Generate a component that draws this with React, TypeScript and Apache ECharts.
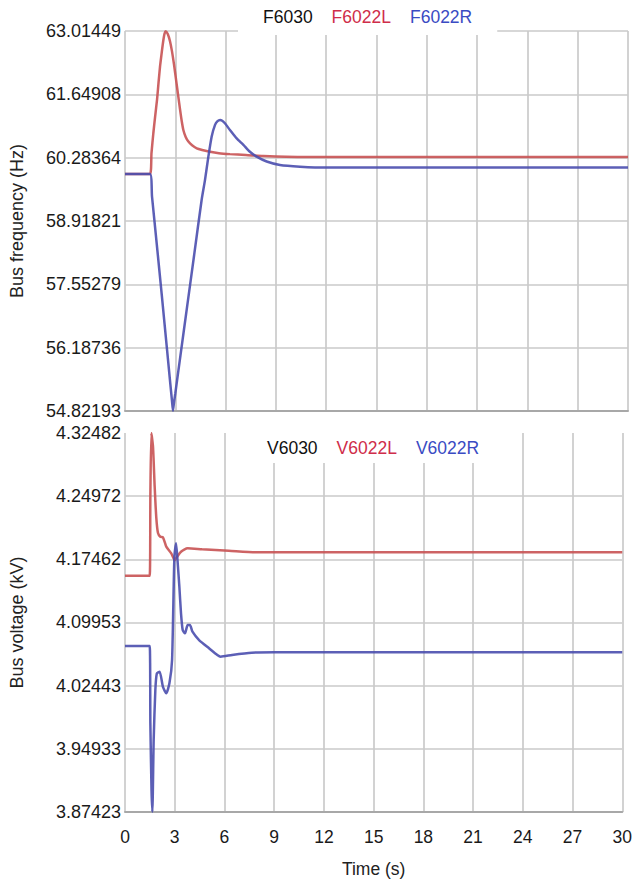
import React, { useEffect, useRef } from "react";
import * as echarts from "echarts";

// ---- Data ----
const timeTicks = [0, 3, 6, 9, 12, 15, 18, 21, 24, 27, 30];

const freqTickLabels = ["54.82193", "56.18736", "57.55279", "58.91821", "60.28364", "61.64908", "63.01449"];
const voltTickLabels = ["3.87423", "3.94933", "4.02443", "4.09953", "4.17462", "4.24972", "4.32482"];

const freqLegend = ["F6030", "F6022L", "F6022R"];
const voltLegend = ["V6030", "V6022L", "V6022R"];

// F6022L (Hz)
const f6022LTime = [0, 1.49, 1.58, 1.69, 1.8, 1.91, 2.0, 2.09, 2.19, 2.29, 2.36, 2.43, 2.55, 2.68, 2.8, 2.92, 3.05, 3.18, 3.28, 3.38, 3.48, 3.62, 3.78, 4.0, 4.28, 4.6, 5.07, 5.6, 6.26, 7.2, 8.25, 10.44, 30];
const f6022LValues = [59.93, 59.93, 60.38, 60.81, 61.18, 61.53, 61.9, 62.25, 62.55, 62.82, 62.96, 63.01, 62.95, 62.8, 62.58, 62.3, 61.95, 61.6, 61.33, 61.08, 60.88, 60.73, 60.63, 60.55, 60.485, 60.45, 60.41, 60.38, 60.36, 60.34, 60.32, 60.3, 60.3];

// F6022R (Hz)
const f6022RTime = [0, 1.49, 1.61, 1.9, 2.2, 2.5, 2.7, 2.8, 2.86, 2.92, 3.0, 3.3, 3.7, 4.1, 4.57, 4.77, 4.97, 5.17, 5.37, 5.52, 5.67, 5.8, 5.96, 6.26, 6.66, 7.06, 7.45, 7.85, 8.45, 9.24, 10.44, 12, 30];
const f6022RValues = [59.93, 59.93, 59.45, 58.4, 57.3, 56.17, 55.42, 55.05, 54.83, 55.0, 55.2, 56.0, 57.06, 58.12, 59.37, 59.8, 60.3, 60.74, 60.99, 61.07, 61.096, 61.08, 61.025, 60.88, 60.7, 60.56, 60.41, 60.305, 60.2, 60.125, 60.09, 60.07, 60.07];

// V6022L (kV)
const v6022LTime = [0, 1.49, 1.53, 1.59, 1.69, 1.79, 1.89, 1.99, 2.13, 2.29, 2.49, 2.79, 3.0, 3.08, 3.38, 3.78, 4.65, 6.26, 8, 30];
const v6022LValues = [4.155, 4.155, 4.25, 4.3248, 4.3085, 4.261, 4.2236, 4.2058, 4.2015, 4.2008, 4.1897, 4.1818, 4.1735, 4.1759, 4.1837, 4.1877, 4.1866, 4.1849, 4.183, 4.183];

// V6022R (kV)
const v6022RTime = [0, 1.49, 1.53, 1.6, 1.65, 1.73, 1.83, 1.92, 2.09, 2.29, 2.49, 2.68, 2.84, 2.98, 3.08, 3.18, 3.28, 3.38, 3.48, 3.62, 3.78, 3.92, 4.07, 4.47, 5.07, 5.57, 5.77, 6.46, 7.65, 9, 30];
const v6022RValues = [4.0716, 4.0716, 3.979, 3.9, 3.8746, 3.96, 4.019, 4.039, 4.041, 4.023, 4.0154, 4.0272, 4.055, 4.178, 4.1937, 4.17, 4.142, 4.11, 4.0906, 4.0867, 4.0966, 4.0966, 4.0886, 4.0787, 4.0689, 4.0609, 4.0589, 4.061, 4.0636, 4.0641, 4.0641];

const RED_LINE = "#c85253";
const BLUE_LINE = "#4a4eae";
const RED_TEXT = "#cf2d4a";
const BLUE_TEXT = "#3a4bc3";
const BLACK_TEXT = "#111111";
const FONT = "'Liberation Sans', Arial, sans-serif";

const zip = (t: number[], v: number[]) => t.map((x, i) => [x, v[i]]);

export default function App() {
  const ref = useRef<HTMLDivElement>(null);

  useEffect(() => {
    if (!ref.current) return;
    const chart = echarts.init(ref.current, null, { renderer: "svg" });

    const freqTicks = freqTickLabels.map(Number);
    const voltTicks = voltTickLabels.map(Number);
    const nearestLabel = (labels: string[], ticks: number[]) => (val: number) => {
      let best = 0;
      for (let i = 1; i < ticks.length; i++) {
        if (Math.abs(ticks[i] - val) < Math.abs(ticks[best] - val)) best = i;
      }
      return labels[best];
    };

    const gridLine = { show: true, lineStyle: { color: "#cacaca", width: 1.7 } };
    const legendColors = [BLACK_TEXT, RED_TEXT, BLUE_TEXT];

    const lineSeries = (name: string, data: number[][], color: string, axisIndex: number) => ({
      name,
      type: "line",
      xAxisIndex: axisIndex,
      yAxisIndex: axisIndex,
      data,
      showSymbol: false,
      symbol: "none",
      smooth: 0.2,
      lineStyle: { color, width: 2.5, opacity: 0.9 },
      itemStyle: { color },
      z: 2,
    });

    const xAxisBase = {
      type: "value",
      min: timeTicks[0],
      max: timeTicks[timeTicks.length - 1],
      interval: timeTicks[1] - timeTicks[0],
      axisTick: { show: false },
      splitLine: gridLine,
    };

    chart.setOption({
      animation: false,
      backgroundColor: "#ffffff",
      textStyle: { fontFamily: FONT },
      grid: [
        { left: 125, right: 7, top: 31, height: 380 },
        { left: 125, right: 7, top: 433, height: 379 },
      ],
      legend: [
        {
          left: 238,
          top: 0,
          padding: [8, 25, 9, 20],
          backgroundColor: "#ffffff",
          icon: "none",
          itemWidth: 0,
          itemGap: 14,
          selectedMode: false,
          textStyle: { fontSize: 17.5, fontFamily: FONT },
          data: freqLegend.map((n, i) => ({ name: n, textStyle: { color: legendColors[i] } })),
        },
        {
          left: 255,
          top: 433,
          padding: [6, 10, 6, 7],
          backgroundColor: "#ffffff",
          icon: "none",
          itemWidth: 0,
          itemGap: 14,
          selectedMode: false,
          textStyle: { fontSize: 17.5, fontFamily: FONT },
          data: voltLegend.map((n, i) => ({ name: n, textStyle: { color: legendColors[i] } })),
        },
      ],
      xAxis: [
        {
          ...xAxisBase,
          gridIndex: 0,
          axisLabel: { show: false },
          axisLine: { show: true, lineStyle: { color: "#a8a8a8", width: 2 } },
        },
        {
          ...xAxisBase,
          gridIndex: 1,
          name: "Time (s)",
          nameLocation: "middle",
          nameGap: 48,
          nameTextStyle: { fontSize: 17.5, color: "#222222", fontFamily: FONT },
          axisLabel: { show: true, margin: 16, fontSize: 17.5, color: "#1a1a1a", fontFamily: FONT },
          axisLine: { show: true, lineStyle: { color: "#a8a8a8", width: 2 } },
        },
      ],
      yAxis: [
        {
          type: "value",
          gridIndex: 0,
          min: freqTicks[0],
          max: freqTicks[freqTicks.length - 1],
          name: "Bus frequency (Hz)",
          nameLocation: "middle",
          nameGap: 99,
          nameTextStyle: { fontSize: 18, color: "#222222", fontFamily: FONT },
          axisLine: { show: false },
          axisTick: { show: false, customValues: freqTicks },
          axisLabel: {
            customValues: freqTicks,
            margin: 4,
            fontSize: 18,
            color: "#1a1a1a",
            fontFamily: FONT,
            formatter: nearestLabel(freqTickLabels, freqTicks),
          },
          splitLine: gridLine,
        },
        {
          type: "value",
          gridIndex: 1,
          min: voltTicks[0],
          max: voltTicks[voltTicks.length - 1],
          name: "Bus voltage (kV)",
          nameLocation: "middle",
          nameGap: 99,
          nameTextStyle: { fontSize: 18, color: "#222222", fontFamily: FONT },
          axisLine: { show: false },
          axisTick: { show: false, customValues: voltTicks },
          axisLabel: {
            customValues: voltTicks,
            margin: 4,
            fontSize: 18,
            color: "#1a1a1a",
            fontFamily: FONT,
            formatter: nearestLabel(voltTickLabels, voltTicks),
          },
          splitLine: { ...gridLine, showMaxLine: false },
        },
      ],
      series: [
        lineSeries(freqLegend[0], [], "#111111", 0),
        lineSeries(freqLegend[1], zip(f6022LTime, f6022LValues), RED_LINE, 0),
        lineSeries(freqLegend[2], zip(f6022RTime, f6022RValues), BLUE_LINE, 0),
        lineSeries(voltLegend[0], [], "#111111", 1),
        lineSeries(voltLegend[1], zip(v6022LTime, v6022LValues), RED_LINE, 1),
        lineSeries(voltLegend[2], zip(v6022RTime, v6022RValues), BLUE_LINE, 1),
      ],
    });

    return () => chart.dispose();
  }, []);

  return <div ref={ref} style={{ width: 635, height: 882, position: "absolute", left: 0, top: 0 }} />;
}
